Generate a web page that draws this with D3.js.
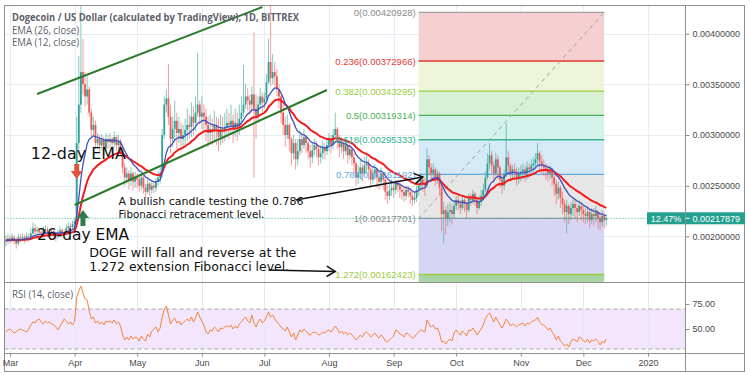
<!DOCTYPE html>
<html>
<head>
<meta charset="utf-8">
<script src="https://cdn.jsdelivr.net/npm/d3@7"></script>
<style>
  html, body { margin: 0; padding: 0; background: #fff; }
  svg { display: block; font-family: "Liberation Sans", Arial, sans-serif; }
</style>
</head>
<body>
<div id="chart"></div>
<script>
// DOGE / USD daily candles, prices in units of 1e-5 USD
const UNIT = 1e-5;
const startDate = new Date(2019, 1, 27);
const firstOpen = 195;

const closes = [
  // Feb 27 - Mar 31
  196,198,197,199,196,193,199,198,199,197,200,199,203,208,205,206,204,203,206,207,203,204,205,204,200,203,206,204,203,208,210,209,212,
  // Apr
  215,292,330,362,350,338,345,322,305,310,292,296,290,295,287,296,293,296,292,298,290,294,285,268,258,262,255,262,254,258,
  // May
  256,250,258,248,244,252,246,250,248,254,258,262,300,330,336,318,296,306,314,302,306,296,300,305,310,308,318,312,322,330,318,
  // Jun
  322,318,310,302,306,304,310,306,298,306,304,308,312,310,314,306,312,308,316,322,330,338,334,330,340,326,318,330,338,332,
  // Jul
  336,352,372,356,362,358,345,338,322,310,300,310,296,282,292,276,284,296,290,298,292,284,278,285,290,286,278,282,288,284,290,
  // Aug
  296,290,300,306,298,288,292,284,290,280,286,278,272,258,262,268,262,270,272,266,256,262,266,258,254,262,256,244,240,245,248,
  // Sep
  246,252,250,246,244,240,246,244,240,236,238,246,250,256,252,250,276,268,262,266,258,262,248,222,226,218,224,226,222,230,
  // Oct
  236,232,228,236,232,226,238,236,242,236,228,234,240,246,258,272,280,270,262,276,268,256,250,262,278,270,262,266,264,258,262,
  // Nov
  264,266,262,268,266,270,272,276,282,274,270,268,266,262,264,258,252,242,248,238,232,224,230,222,228,232,228,224,230,226,
  // Dec 1 - 12
  222,220,224,216,222,220,224,218,214,220,216,218
];

const highs = [
  201,202,201,203,201,199,203,202,203,202,204,203,208,214,212,210,208,207,210,211,209,208,209,208,205,207,210,208,207,212,214,213,216,
  218,318,378,460,395,362,358,348,326,318,314,302,300,301,298,302,300,302,298,304,300,300,296,288,272,268,265,268,264,264,
  262,260,262,260,252,256,254,256,254,258,264,268,306,338,345,370,330,318,334,322,318,312,310,316,326,320,332,328,338,381,334,
  338,330,326,318,320,316,324,318,316,320,318,322,326,322,330,320,326,322,330,338,369,350,346,340,348,401,340,338,346,342,
  342,360,395,440,380,372,365,350,340,330,318,320,312,298,300,296,296,304,302,306,300,294,290,292,296,294,290,290,294,292,296,
  302,300,306,322,308,300,298,294,296,292,292,288,282,274,270,276,272,278,280,276,268,270,272,268,262,268,264,260,250,252,256,
  252,256,256,254,250,248,250,250,248,244,244,250,256,262,260,258,287,280,272,272,268,266,264,250,234,230,232,234,232,236,
  240,240,236,240,238,234,242,242,246,244,238,240,246,252,264,282,292,284,274,282,280,270,260,266,312,284,272,270,272,268,268,
  270,272,270,274,272,276,278,282,292,284,280,276,272,270,270,268,262,256,254,250,244,236,236,232,234,238,236,232,236,234,
  230,228,230,226,228,228,230,226,224,226,224,222
];

const lows = [
  190,192,193,194,192,188,191,194,195,193,195,195,197,201,200,201,199,198,200,202,199,199,200,199,195,198,200,200,198,201,205,204,206,
  205,212,286,322,340,328,330,318,298,300,286,286,282,285,280,284,286,288,284,288,284,286,280,262,250,252,246,250,245,248,
  248,244,246,242,239,242,240,242,243,244,250,252,258,296,322,310,282,288,294,286,292,284,286,290,294,296,298,300,304,318,310,
  306,302,294,288,292,290,294,290,284,290,292,294,298,296,300,292,298,294,300,306,318,326,324,320,324,258,296,312,326,322,
  326,332,350,348,350,348,338,326,312,300,288,296,284,270,276,266,270,280,282,286,282,276,268,272,280,278,270,272,276,276,280,
  284,282,286,296,286,278,282,276,280,272,276,270,262,250,252,256,254,260,262,256,248,252,256,248,246,250,246,236,232,236,240,
  238,242,244,238,236,234,236,238,232,230,232,234,240,246,244,240,248,260,254,256,250,252,240,205,193,202,210,214,212,218,
  226,226,222,226,224,218,224,230,232,230,222,226,230,236,244,256,266,262,254,260,256,248,242,246,258,262,254,256,256,250,252,
  254,256,254,256,258,260,262,266,270,264,262,260,256,254,256,250,240,232,236,228,222,214,203,212,216,220,218,214,220,216,
  214,212,214,208,212,210,214,208,206,210,208,210
];

// RSI (14, close), one value per day
const rsiValues = [
  47,49,50,48,46,47,49,50,49,48,47,50,54,57,56,59,60,57,55,58,56,57,55,54,52,49,53,56,60,58,55,57,54,
  58,82,88,93,86,80,79,68,60,62,56,58,55,57,54,58,57,58,56,59,55,57,53,44,39,42,39,43,40,42,
  41,38,43,40,38,45,42,48,50,52,47,51,62,70,73,64,55,59,61,56,58,54,56,58,60,58,62,57,61,67,62,
  58,54,47,45,49,48,52,50,47,51,50,52,53,52,54,50,53,51,55,57,60,62,58,56,64,56,52,57,60,56,
  58,62,67,62,64,60,57,55,52,50,48,52,47,42,46,39,44,49,47,50,48,45,44,46,47,46,44,45,47,46,48,
  49,47,50,53,50,46,48,45,47,44,46,44,42,39,41,44,42,46,47,45,42,44,46,43,41,44,42,38,37,39,41,
  43,49,48,45,44,42,46,45,43,41,42,45,47,49,48,47,59,55,52,54,50,51,46,37,38,35,38,40,38,46,
  49,46,44,48,46,43,49,48,51,48,44,47,50,54,60,64,66,62,57,62,58,54,51,55,60,57,53,55,54,52,54,
  55,56,53,56,55,57,58,59,62,57,55,54,52,49,51,47,44,39,43,38,36,33,35,32,37,40,39,37,42,41,
  38,37,40,36,39,38,40,38,34,38,36,40
];

const lastPrice = 0.00217879;
const changeLabel = "12.47%";
const priceTicks = [0.002, 0.0025, 0.003, 0.0035, 0.004];
const rsiTicks = [50, 75];
const rsiBand = [30, 70];
const monthTicks = ["2019-03-01","2019-04-01","2019-05-01","2019-06-01","2019-07-01","2019-08-01",
                    "2019-09-01","2019-10-01","2019-11-01","2019-12-01","2020-01-01"];
const monthLabels = ["Mar","Apr","May","Jun","Jul","Aug","Sep","Oct","Nov","Dec","2020"];

// Fibonacci retracement (from the low on the left to the high on the right)
const fibStart = new Date(2019, 8, 13), fibEnd = new Date(2019, 11, 11);
const fibLevels = [0, 0.236, 0.382, 0.5, 0.618, 0.786, 1, 1.272, 1.414];
const fibPrices = [0.00420928, 0.00372966, 0.00343295, 0.00319314, 0.00295333, 0.00261192, 0.00217701, 0.00162423, 0.00133565];
const fibLine = ["#9e9e9e","#e53935","#9ccc3c","#4caf50","#3bb28f","#5fa8e0","#9e9e9e","#9ccc3c","#4caf50"];
const fibFill = ["#f5d0d0","#eef4d8","#d7f1d4","#d3f2ea","#d5e9f6","#e6e6e6","#d6d6f4","#a9d5a4"];
const fibText = ["#8a8a8a","#e53935","#9ccc3c","#4caf50","#2eb08f","#5fa8e0","#8a8a8a","#9ccc3c"];

// drawings, anchored as [date, price]
const trendLines = [
  [[new Date(2019, 2, 14), 0.003404], [new Date(2019, 5, 30), 0.004262]],
  [[new Date(2019, 3, 1), 0.00231], [new Date(2019, 6, 31), 0.003444]]
];
const arrowLines = [
  [[new Date(2019, 6, 16), 0.002359], [new Date(2019, 8, 15), 0.002586]],
  [[new Date(2019, 6, 3), 0.001669], [new Date(2019, 7, 4), 0.001654]]
];
const notes = [
  { text: "12-day EMA", at: [new Date(2019, 2, 11), 0.002763], size: 16.5, len: 95 },
  { text: "26-day EMA", at: [new Date(2019, 2, 14), 0.001964], size: 16.5, len: 92 },
  { text: "A bullish candle testing the 0.786", at: [new Date(2019, 3, 22), 0.00231], size: 10.5, len: 185 },
  { text: "Fibonacci retracement level.", at: [new Date(2019, 3, 22), 0.002186], size: 10.5, len: 146 },
  { text: "DOGE will fall and reverse at the", at: [new Date(2019, 3, 8), 0.001792], size: 12, len: 207 },
  { text: "1.272 extension Fibonacci level.", at: [new Date(2019, 3, 8), 0.001659], size: 12, len: 200 }
];
const downMark = [new Date(2019, 3, 2), 0.002714];
const upMark = [new Date(2019, 3, 5), 0.00226];

// ---- layout
const W = 750, H = 375;
const padL = 4.5, padR = 744.5, padT = 5.5, padB = 371.5;
const axisX = 685.5, mainBottom = 282.5, rsiBottom = 353.5;

const x = d3.scaleTime().domain([new Date(2019, 2, 1), new Date(2020, 0, 1)]).range([10, 648]);
const y = d3.scaleLinear().domain([0.002, 0.004]).range([236.4, 33.6]);
const yr = d3.scaleLinear().domain([50, 75]).range([329, 304]);

const candles = closes.map((c, i) => ({
  date: d3.timeDay.offset(startDate, i),
  open: (i ? closes[i - 1] : firstOpen) * UNIT,
  close: c * UNIT,
  high: highs[i] * UNIT,
  low: lows[i] * UNIT
}));

function ema(vals, n) {
  const k = 2 / (n + 1);
  let e = vals[0];
  return vals.map(v => (e = e + k * (v - e)));
}
const ema12 = ema(closes, 12);
const ema26 = ema(closes, 26);

const svg = d3.select("#chart").append("svg").attr("width", W).attr("height", H);
const defs = svg.append("defs");
defs.append("clipPath").attr("id", "clip-main")
  .append("rect").attr("x", padL + 0.5).attr("y", padT + 0.5)
  .attr("width", axisX - padL - 1).attr("height", mainBottom - padT - 1);
defs.append("clipPath").attr("id", "clip-rsi")
  .append("rect").attr("x", padL + 0.5).attr("y", mainBottom + 0.5)
  .attr("width", axisX - padL - 1).attr("height", rsiBottom - mainBottom - 1);

const monthDates = monthTicks.map(d3.timeParse("%Y-%m-%d"));

// ---- main pane
const main = svg.append("g").attr("clip-path", "url(#clip-main)");

// grid
main.append("g").selectAll("line").data(monthDates).join("line")
  .attr("x1", d => Math.round(x(d)) + 0.5).attr("x2", d => Math.round(x(d)) + 0.5)
  .attr("y1", padT).attr("y2", mainBottom)
  .attr("stroke", "#e7edf4").attr("stroke-width", 1);
main.append("g").selectAll("line").data(priceTicks).join("line")
  .attr("x1", padL).attr("x2", axisX)
  .attr("y1", d => Math.round(y(d)) + 0.5).attr("y2", d => Math.round(y(d)) + 0.5)
  .attr("stroke", "#e7edf4").attr("stroke-width", 1);

// fib zones
const fx0 = x(fibStart), fx1 = x(fibEnd);
const fib = main.append("g").attr("class", "fib");
fib.append("g").selectAll("rect").data(fibFill).join("rect")
  .attr("x", fx0).attr("width", fx1 - fx0)
  .attr("y", (d, i) => y(fibPrices[i]))
  .attr("height", (d, i) => y(fibPrices[i + 1]) - y(fibPrices[i]))
  .attr("fill", d => d);
fib.append("g").selectAll("line").data(fibPrices).join("line")
  .attr("x1", fx0).attr("x2", fx1)
  .attr("y1", d => y(d)).attr("y2", d => y(d))
  .attr("stroke", (d, i) => fibLine[i]).attr("stroke-width", 1.3);
fib.append("line")
  .attr("x1", fx0).attr("y1", y(fibPrices[6]))
  .attr("x2", fx1).attr("y2", y(fibPrices[0]))
  .attr("stroke", "#a0a0a0").attr("stroke-width", 1).attr("stroke-dasharray", "4,4");

// candles
const up = "#2fa396", down = "#ec5a5a";
const cg = main.append("g").attr("class", "candles");
const cEnter = cg.selectAll("g").data(candles).join("g");
cEnter.append("line")
  .attr("x1", d => x(d.date)).attr("x2", d => x(d.date))
  .attr("y1", d => y(d.high)).attr("y2", d => y(d.low))
  .attr("stroke", d => d.close >= d.open ? up : down)
  .attr("stroke-opacity", 0.6).attr("stroke-width", 1);
cEnter.append("rect")
  .attr("x", d => x(d.date) - 0.9).attr("width", 1.8)
  .attr("y", d => y(Math.max(d.open, d.close)))
  .attr("height", d => Math.max(1, Math.abs(y(d.open) - y(d.close))))
  .attr("fill", d => d.close >= d.open ? up : down);

// EMAs
const emaLine = d3.line()
  .x((d, i) => x(candles[i].date))
  .y(d => y(d * UNIT));
main.append("path").datum(ema26).attr("d", emaLine)
  .attr("fill", "none").attr("stroke", "#f21c1c").attr("stroke-width", 2);
main.append("path").datum(ema12).attr("d", emaLine)
  .attr("fill", "none").attr("stroke", "#3f4fbf").attr("stroke-width", 1.3);

// fib labels
main.append("g").selectAll("text").data(fibPrices.slice(0, 8)).join("text")
  .attr("x", fx0 - 3).attr("y", d => y(d) + 3.5)
  .attr("text-anchor", "end").attr("font-size", 9.5)
  .attr("fill", (d, i) => fibText[i])
  .text((d, i) => `${fibLevels[i]}(${d.toFixed(8)})`);

// trend lines
const pt = d => [x(d[0]), y(d[1])];
main.append("g").selectAll("line").data(trendLines).join("line")
  .attr("x1", d => pt(d[0])[0]).attr("y1", d => pt(d[0])[1])
  .attr("x2", d => pt(d[1])[0]).attr("y2", d => pt(d[1])[1])
  .attr("stroke", "#2b7a2b").attr("stroke-width", 2);

// current price dotted line
main.append("line")
  .attr("x1", padL).attr("x2", 647).attr("y1", y(lastPrice)).attr("y2", y(lastPrice))
  .attr("stroke", "#26a69a").attr("stroke-width", 1).attr("stroke-dasharray", "1,2");

// text notes
main.append("g").selectAll("text").data(notes).join("text")
  .attr("x", d => x(d.at[0])).attr("y", d => y(d.at[1]))
  .attr("font-family", "'DejaVu Sans', sans-serif")
  .attr("font-size", d => d.size)
  .attr("textLength", d => d.len).attr("lengthAdjust", "spacingAndGlyphs")
  .attr("fill", "#111").text(d => d.text);

// arrows
const ag = main.append("g").attr("stroke", "#111").attr("stroke-width", 1.5).attr("fill", "none");
arrowLines.forEach(a => {
  const [x0, y0] = pt(a[0]), [x1, y1] = pt(a[1]);
  const ang = Math.atan2(y1 - y0, x1 - x0), L = 10, s = 0.55;
  ag.append("line").attr("x1", x0).attr("y1", y0).attr("x2", x1).attr("y2", y1);
  ag.append("path").attr("d",
    `M${x1 - L * Math.cos(ang - s)},${y1 - L * Math.sin(ang - s)}L${x1},${y1}L${x1 - L * Math.cos(ang + s)},${y1 - L * Math.sin(ang + s)}`);
});

// signal marks
const [dx, dy] = pt(downMark);
main.append("path")
  .attr("d", `M${dx - 2.5},${dy}h5v7h3.5l-6,8l-6,-8h3.5z`)
  .attr("fill", "#e0573c");
const [ux, uy] = pt(upMark);
main.append("path")
  .attr("d", `M${ux},${uy}l6,8h-3.5v8h-5v-8h-3.5z`)
  .attr("fill", "#2f7d4c");

// legend
const legend = svg.append("g").attr("fill", "#5d606b").attr("font-family", "'Open Sans', sans-serif");
legend.append("text").attr("x", 12).attr("y", 21).attr("font-size", 10.5).attr("font-weight", "bold")
  .attr("textLength", 287).attr("lengthAdjust", "spacingAndGlyphs")
  .text("Dogecoin / US Dollar (calculated by TradingView), 1D, BITTREX");
legend.append("text").attr("x", 12).attr("y", 33.5).attr("font-size", 10.5)
  .attr("textLength", 67).attr("lengthAdjust", "spacingAndGlyphs").text("EMA (26, close)");
legend.append("text").attr("x", 12).attr("y", 46).attr("font-size", 10.5)
  .attr("textLength", 67).attr("lengthAdjust", "spacingAndGlyphs").text("EMA (12, close)");

// ---- RSI pane
const rsi = svg.append("g").attr("clip-path", "url(#clip-rsi)");
rsi.append("rect").attr("x", padL).attr("width", axisX - padL)
  .attr("y", yr(rsiBand[1])).attr("height", yr(rsiBand[0]) - yr(rsiBand[1]))
  .attr("fill", "#f3e6fc");
rsi.append("g").selectAll("line").data(monthDates).join("line")
  .attr("x1", d => Math.round(x(d)) + 0.5).attr("x2", d => Math.round(x(d)) + 0.5)
  .attr("y1", mainBottom).attr("y2", rsiBottom)
  .attr("stroke", "#e4e9f1").attr("stroke-width", 1);
rsi.append("g").selectAll("line").data(rsiBand).join("line")
  .attr("x1", padL).attr("x2", axisX).attr("y1", d => yr(d)).attr("y2", d => yr(d))
  .attr("stroke", "#a8a8a8").attr("stroke-width", 1).attr("stroke-dasharray", "4,3");
rsi.append("path").datum(rsiValues)
  .attr("d", d3.line().x((d, i) => x(candles[i].date)).y(d => yr(d)))
  .attr("fill", "none").attr("stroke", "#f5853a").attr("stroke-width", 1);
svg.append("text").attr("x", 12).attr("y", 298).attr("font-size", 10)
  .attr("font-family", "'Open Sans', sans-serif").attr("fill", "#5d606b")
  .attr("textLength", 61).attr("lengthAdjust", "spacingAndGlyphs").text("RSI (14, close)");

// ---- frames
const frame = svg.append("g").attr("stroke", "#8f8f8f").attr("stroke-width", 1).attr("fill", "none");
frame.append("rect").attr("x", padL).attr("y", padT).attr("width", padR - padL).attr("height", padB - padT);
frame.append("line").attr("x1", axisX).attr("x2", axisX).attr("y1", padT).attr("y2", padB);
frame.append("line").attr("x1", padL).attr("x2", padR).attr("y1", mainBottom).attr("y2", mainBottom);
frame.append("line").attr("x1", padL).attr("x2", padR).attr("y1", rsiBottom).attr("y2", rsiBottom);

// ---- axes
const priceAxis = svg.append("g").attr("transform", `translate(${axisX},0)`)
  .call(d3.axisRight(y).tickValues(priceTicks).tickFormat(d3.format(".8f")).tickSize(4).tickPadding(3));
const rsiAxis = svg.append("g").attr("transform", `translate(${axisX},0)`)
  .call(d3.axisRight(yr).tickValues(rsiTicks).tickFormat(d3.format(".2f")).tickSize(4).tickPadding(3));
const timeAxis = svg.append("g").attr("transform", `translate(0,${rsiBottom})`)
  .call(d3.axisBottom(x).tickValues(monthDates).tickFormat((d, i) => monthLabels[i]).tickSize(3).tickPadding(3));
[priceAxis, rsiAxis, timeAxis].forEach(a => {
  a.select(".domain").remove();
  a.selectAll(".tick line").attr("stroke", "#8f8f8f");
  a.selectAll(".tick text").attr("fill", "#4a4a4a").attr("font-size", 9)
    .attr("font-family", "'Liberation Sans', Arial, sans-serif");
});

// current price badges
const by = y(lastPrice);
const badge = svg.append("g");
badge.append("rect").attr("x", 647).attr("y", by - 6).attr("width", 38).attr("height", 12).attr("fill", "#24a08f");
badge.append("rect").attr("x", axisX + 0.5).attr("y", by - 6).attr("width", padR - axisX).attr("height", 12).attr("fill", "#24a08f");
badge.append("text").attr("x", 666).attr("y", by + 3.3).attr("text-anchor", "middle")
  .attr("font-size", 9).attr("fill", "#fff").text(changeLabel);
badge.append("text").attr("x", axisX + 7).attr("y", by + 3.3)
  .attr("font-size", 9).attr("fill", "#fff").text(d3.format(".8f")(lastPrice));
badge.append("line").attr("x1", axisX).attr("x2", axisX + 4).attr("y1", by).attr("y2", by).attr("stroke", "#fff");
</script>
</body>
</html>
